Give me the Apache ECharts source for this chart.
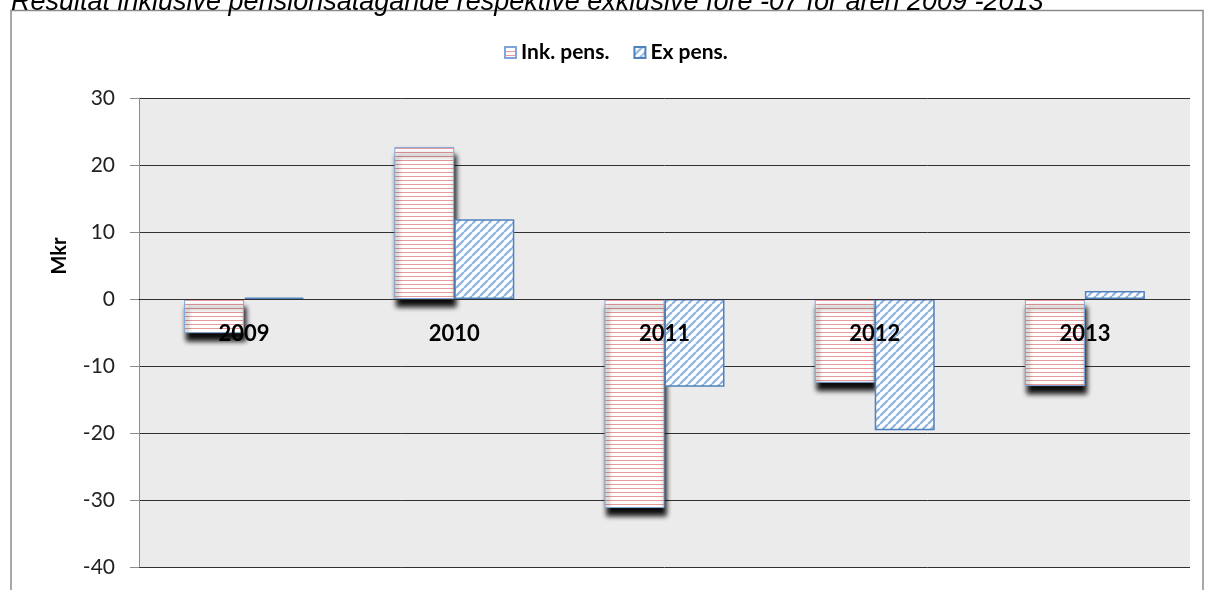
<!DOCTYPE html>
<html>
<head>
<meta charset="utf-8">
<script src="https://cdn.jsdelivr.net/npm/echarts@6/dist/echarts.min.js"></script>
<style>
  html, body { margin: 0; padding: 0; background: #fff; }
  #chart { width: 1205px; height: 590px; }
</style>
</head>
<body>
<div id="chart"></div>
<script>
var years = ['2009', '2010', '2011', '2012', '2013'];
var inkPens = [-5.1, 22.7, -31.2, -12.5, -13.0];
var exPens = [0.2, 11.9, -13.1, -19.6, 1.2];
var yTicks = { min: -40, max: 30, step: 10 };

var gridTop = 98, gridBottom = 23, chartH = 590;
// category labels sit on the zero line, so pull the x axis up to y = 0
var plotH = chartH - gridTop - gridBottom;
var zeroOffset = -plotH * (0 - yTicks.min) / (yTicks.max - yTicks.min);

// horizontal red stripes
function hStripes() {
  var c = document.createElement('canvas');
  c.width = 4; c.height = 4;
  var ctx = c.getContext('2d');
  ctx.fillStyle = '#ffffff';
  ctx.fillRect(0, 0, 4, 4);
  ctx.fillStyle = '#e89a9a';
  ctx.fillRect(0, 0, 4, 1);
  return c;
}

// diagonal blue stripes
function dStripes() {
  var s = 8;
  var c = document.createElement('canvas');
  c.width = s; c.height = s;
  var ctx = c.getContext('2d');
  ctx.fillStyle = '#ffffff';
  ctx.fillRect(0, 0, s, s);
  ctx.strokeStyle = '#8db3e2';
  ctx.lineWidth = 2.2;
  ctx.beginPath();
  for (var k = -1; k <= 1; k++) {
    ctx.moveTo(k * s, s);
    ctx.lineTo(k * s + s, 0);
  }
  ctx.stroke();
  return c;
}

var chart = echarts.init(document.getElementById('chart'));
var font = 'Lato, "Open Sans", sans-serif';

chart.setOption({
  backgroundColor: '#ffffff',
  animation: false,
  title: {
    text: 'Resultat inklusive pensionsåtagande respektive exklusive före -07 för åren 2009 -2013',
    left: 6,
    top: -16,
    textStyle: { fontFamily: 'Liberation Sans, Arial', fontStyle: 'italic', fontWeight: 'normal', fontSize: 27, color: '#000' }
  },
  graphic: [{
    type: 'rect',
    shape: { x: 11, y: 10.5, width: 1192, height: 600 },
    style: { fill: 'none', stroke: '#8c8c8c', lineWidth: 1.5 },
    z: -1
  }, {
    // axis title sits above the middle of the axis
    type: 'text',
    x: 60,
    y: 256,
    rotation: Math.PI / 2,
    style: {
      text: 'Mkr',
      font: 'bold 20px Lato, "Open Sans", sans-serif',
      fill: '#000',
      align: 'center',
      verticalAlign: 'middle'
    }
  }],
  legend: {
    left: 499,
    top: 37,
    icon: 'rect',
    itemWidth: 11,
    itemHeight: 11,
    itemGap: 24,
    textStyle: { fontFamily: font, fontWeight: 'bold', fontSize: 21, color: '#000' },
    data: ['Ink. pens.', 'Ex pens.']
  },
  grid: {
    left: 139,
    right: 15,
    top: gridTop,
    bottom: gridBottom,
    containLabel: false,
    outerBoundsMode: 'none',
    show: true,
    backgroundColor: '#ebebeb',
    borderWidth: 0
  },
  xAxis: {
    type: 'category',
    data: years,
    z: 10,
    position: 'bottom',
    offset: zeroOffset,
    axisLine: { show: true, onZero: false, lineStyle: { color: '#303030', width: 1 } },
    axisTick: { show: false },
    splitLine: { show: false },
    axisLabel: { margin: 24, fontFamily: font, fontWeight: 'bold', fontSize: 22, color: '#000' }
  },
  yAxis: {
    type: 'value',
    min: yTicks.min,
    max: yTicks.max,
    interval: yTicks.step,
    axisLine: { show: true, lineStyle: { color: '#8c8c8c', width: 1 } },
    axisTick: { show: true, length: 9, lineStyle: { color: '#8c8c8c' } },
    axisLabel: { margin: 24, fontFamily: font, fontSize: 21, color: '#222' },
    splitLine: { show: true, lineStyle: { color: '#303030', width: 1 } }
  },
  series: [
    {
      name: 'Ink. pens.',
      type: 'bar',
      data: inkPens,
      barWidth: 60,
      barGap: '0%',
      itemStyle: {
        color: { image: hStripes(), repeat: 'repeat' },
        borderColor: '#7fa6d8',
        borderWidth: 1,
        shadowColor: 'rgba(0,0,0,0.95)',
        shadowBlur: 5,
        shadowOffsetX: 2,
        shadowOffsetY: 8
      }
    },
    {
      name: 'Ex pens.',
      type: 'bar',
      data: exPens,
      barWidth: 60,
      itemStyle: {
        color: { image: dStripes(), repeat: 'repeat' },
        borderColor: '#4f81bd',
        borderWidth: 1.5
      }
    }
  ]
});
</script>
</body>
</html>
